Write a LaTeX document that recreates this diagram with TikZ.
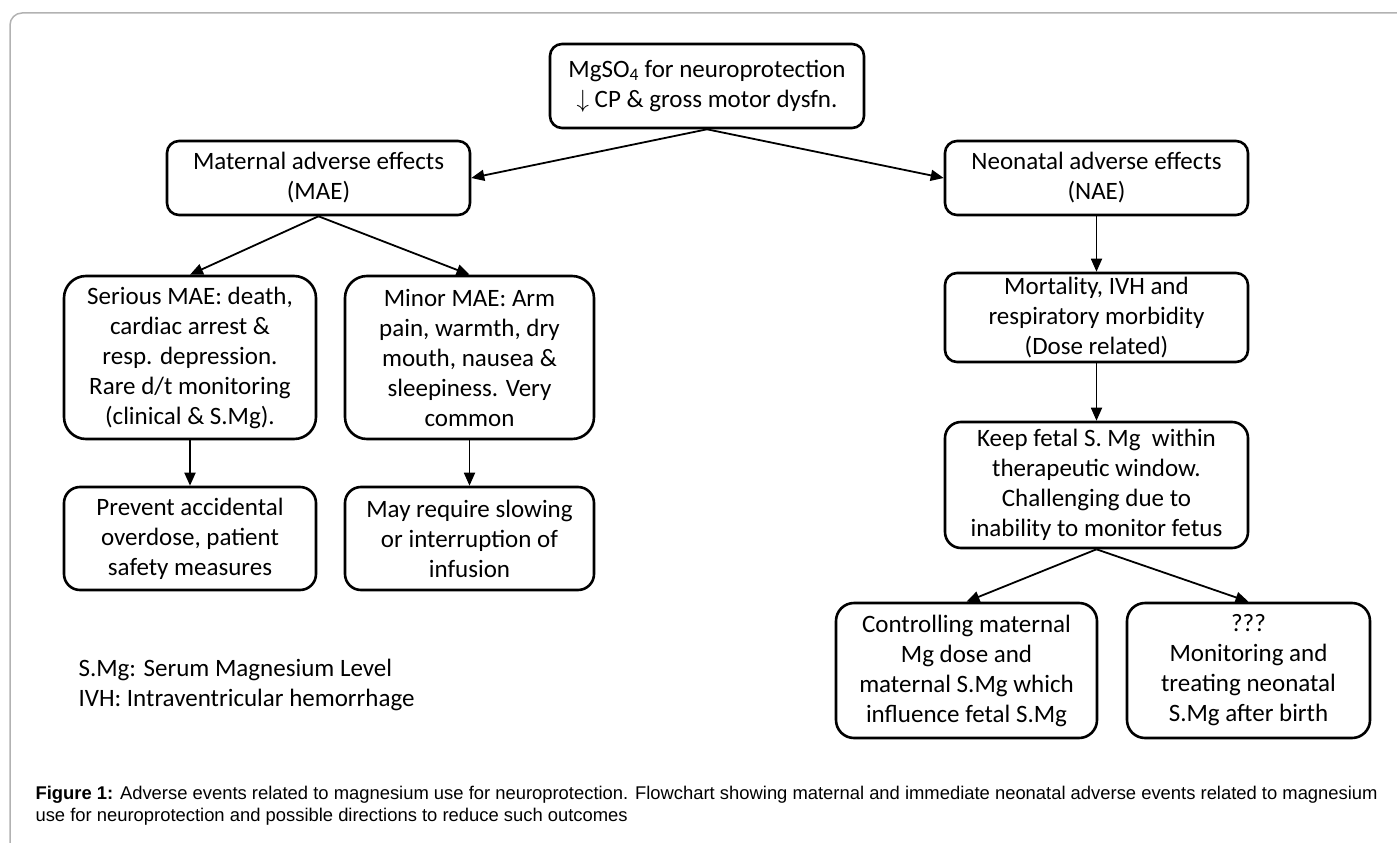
\documentclass[tikz,border=0pt]{standalone}
\usepackage{fontspec}
\setmainfont{Carlito}
\newfontfamily\capfont{Liberation Sans}
\usetikzlibrary{arrows.meta}

\begin{document}
\begin{tikzpicture}[x=1pt,y=-1pt,
  every node/.style={font=\fontsize{25}{30}\selectfont},
  box/.style={draw, line width=2.6pt, rounded corners=12pt, align=center, inner sep=0pt},
  flow/.style={-{Triangle[length=13pt,width=11pt]}, line width=1.8pt}]
\useasboundingbox (0,0) rectangle (1397,843);
\draw[black!30, line width=1.5pt, rounded corners=12pt] (10,843) -- (10,13) -- (1397,13);

\node[box, minimum width=314pt, minimum height=84pt] (mgso) at (707,86)
  {MgSO\textsubscript{4} for neuroprotection\\$\downarrow$ CP \& gross motor dysfn.};
\node[box, minimum width=303pt, minimum height=74pt] (mae) at (318.5,178)
  {Maternal adverse effects\\(MAE)};
\node[box, minimum width=303pt, minimum height=74pt] (nae) at (1096.5,178)
  {Neonatal adverse effects\\(NAE)};

\node[box, rounded corners=22pt, minimum width=252pt, minimum height=163pt] (serious) at (190,357.5)
  {Serious MAE: death,\\cardiac arrest \&\\resp. depression.\\Rare d/t monitoring\\(clinical \& S.Mg).};
\node[box, rounded corners=22pt, minimum width=249pt, minimum height=163pt] (minor) at (469.5,357.5)
  {Minor MAE: Arm\\pain, warmth, dry\\mouth, nausea \&\\sleepiness. Very\\common};
\node[box, rounded corners=16pt, minimum width=252pt, minimum height=103pt] (prevent) at (190,538.5)
  {Prevent accidental\\overdose, patient\\safety measures};
\node[box, rounded corners=16pt, minimum width=249pt, minimum height=103pt] (slowing) at (469.5,538.5)
  {May require slowing\\or interruption of\\infusion};

\node[box, minimum width=303pt, minimum height=89pt] (mort) at (1096.5,317.5)
  {Mortality, IVH and\\respiratory morbidity\\(Dose related)};
\node[box, rounded corners=16pt, minimum width=303pt, minimum height=126pt] (keep) at (1096.5,485)
  {Keep fetal S. Mg\ \ within\\therapeutic window.\\Challenging due to\\inability to monitor fetus};
\node[box, rounded corners=18pt, minimum width=261pt, minimum height=135pt] (ctrl) at (966.5,670.5)
  {Controlling maternal\\Mg dose and\\maternal S.Mg which\\influence fetal S.Mg};
\node[box, rounded corners=18pt, minimum width=243pt, minimum height=135pt] (neo) at (1248.5,670.5)
  {???\\Monitoring and\\treating neonatal\\S.Mg after birth};

\draw[flow] (mgso.south) -- (mae.east);
\draw[flow] (mgso.south) -- (nae.west);
\draw[flow] (mae.south) -- (serious.north);
\draw[flow] (mae.south) -- (minor.north);
\draw[flow] (serious) -- (prevent);
\draw[flow] (minor) -- (slowing);
\draw[flow] (nae) -- (mort);
\draw[flow] (mort) -- (keep);
\draw[flow] (keep.south) -- (ctrl.north);
\draw[flow] (keep.south) -- (neo.north);

% abbreviations
\node[anchor=base west, align=left] (abbr) at (75,706)
  {S.Mg: Serum Magnesium Level\\IVH: Intraventricular hemorrhage};

\node[anchor=base west, align=left, font=\capfont\fontsize{18.4}{22}\selectfont] (caption) at (32,821)
  {\textbf{Figure 1:} Adverse events related to magnesium use for neuroprotection. Flowchart showing maternal and immediate neonatal adverse events related to magnesium\\
   use for neuroprotection and possible directions to reduce such outcomes};
\end{tikzpicture}
\end{document}
